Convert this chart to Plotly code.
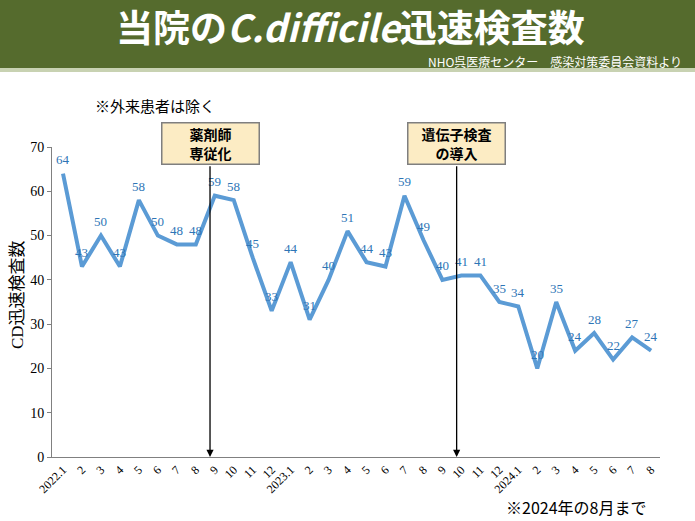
import plotly.graph_objects as go

# ---- data ----
tick_labels = ["2022.1", "2", "3", "4", "5", "6", "7", "8", "9", "10", "11", "12",
               "2023.1", "2", "3", "4", "5", "6", "7", "8", "9", "10", "11", "12",
               "2024.1", "2", "3", "4", "5", "6", "7", "8"]
cd_tests = [64, 43, 50, 43, 58, 50, 48, 48, 59, 58, 45, 33,
            44, 31, 40, 51, 44, 43, 59, 49, 40, 41, 41, 35,
            34, 20, 35, 24, 28, 22, 27, 24]
event_labels = ["薬剤師<br>専従化", "遺伝子検査<br>の導入"]
event_positions = [7.75, 20.75]

W, H = 695, 521
L, R, T, B = 52, 35, 147, 64
PW, PH = W - L - R, H - T - B
XR = [-0.58, 31.47]


def px(x):
    return (x - L) / PW


def py(y):
    return (H - B - y) / PH


JP = "Noto Sans CJK JP"
SERIF = "Liberation Serif"
xs = list(range(len(cd_tests)))

fig = go.Figure()
fig.add_trace(go.Scatter(
    x=xs, y=cd_tests, mode="lines",
    line=dict(color="#5b9bd5", width=4),
    hoverinfo="y", showlegend=False,
))

annotations = []
for xi, v in zip(xs, cd_tests):
    annotations.append(dict(
        x=xi, y=v, text=str(v), showarrow=False, yshift=14,
        font=dict(family=SERIF, size=13, color="#2e75b6"),
    ))

# event arrows and boxes
for pos, lab in zip(event_positions, event_labels):
    annotations.append(dict(
        x=pos, y=0, ax=pos, ay=66, axref="x", ayref="y", xref="x", yref="y",
        text="", showarrow=True, arrowhead=2, arrowsize=1.1, arrowwidth=1.3,
        arrowcolor="#000000",
    ))
    annotations.append(dict(
        x=(pos - XR[0]) / (XR[1] - XR[0]), y=py(144), xref="paper", yref="paper",
        text="<b>" + lab + "</b>", showarrow=False,
        font=dict(family=JP, size=14, color="#000000"),
        bgcolor="#fcecc4", bordercolor="#7f7f7f", borderwidth=1.5,
        width=94, height=38, borderpad=1, align="center",
        xanchor="center", yanchor="middle",
    ))

# header
annotations.append(dict(
    x=px(350), y=py(26), xref="paper", yref="paper", showarrow=False,
    text="<b>当院の<i>C.difficile</i>迅速検査数</b>",
    font=dict(family=JP, size=37, color="#ffffff"),
    xanchor="center", yanchor="middle",
))
annotations.append(dict(
    x=px(684), y=py(61), xref="paper", yref="paper", showarrow=False,
    text="NHO呉医療センター　感染対策委員会資料より",
    font=dict(family=JP, size=12, color="#ffffff"),
    xanchor="right", yanchor="middle",
))
annotations.append(dict(
    x=px(93), y=py(106), xref="paper", yref="paper", showarrow=False,
    text="※外来患者は除く",
    font=dict(family=JP, size=15, color="#000000"),
    xanchor="left", yanchor="middle",
))
annotations.append(dict(
    x=px(648), y=py(507), xref="paper", yref="paper", showarrow=False,
    text="※2024年の8月まで",
    font=dict(family=JP, size=16, color="#000000"),
    xanchor="right", yanchor="middle",
))
annotations.append(dict(
    x=px(15), y=py(295), xref="paper", yref="paper", showarrow=False,
    text="<span style='font-family:Liberation Serif'>CD</span>迅速検査数",
    font=dict(family=JP, size=17, color="#000000"),
    textangle=-90, xanchor="center", yanchor="middle",
))

shapes = [
    dict(type="rect", xref="paper", yref="paper", x0=px(0), x1=px(W),
         y0=py(68), y1=py(0), fillcolor="#556b2d", line=dict(width=0), layer="below"),
    dict(type="rect", xref="paper", yref="paper", x0=px(0), x1=px(W),
         y0=py(72), y1=py(68), fillcolor="#c8d2b2", line=dict(width=0), layer="below"),
]

fig.update_layout(
    width=W, height=H,
    margin=dict(l=L, r=R, t=T, b=B, autoexpand=False),
    paper_bgcolor="#ffffff", plot_bgcolor="#ffffff",
    annotations=annotations, shapes=shapes,
    xaxis=dict(
        range=XR, tickmode="array", tickvals=xs, ticktext=tick_labels,
        tickangle=-45, tickfont=dict(family=SERIF, size=12, color="#000000"),
        showgrid=False, zeroline=False, showline=True, linecolor="#808080",
        linewidth=1, ticks="", automargin=False,
    ),
    yaxis=dict(
        range=[0, 70], dtick=10, tickfont=dict(family=SERIF, size=14, color="#000000"),
        showgrid=False, zeroline=False, showline=True, linecolor="#808080",
        linewidth=1, ticks="outside", ticklen=4, tickcolor="#808080",
        automargin=False,
    ),
)

fig.write_html("out.html", config={"displayModeBar": False},
               post_script="document.body.style.margin='0';document.body.style.overflow='hidden';")
